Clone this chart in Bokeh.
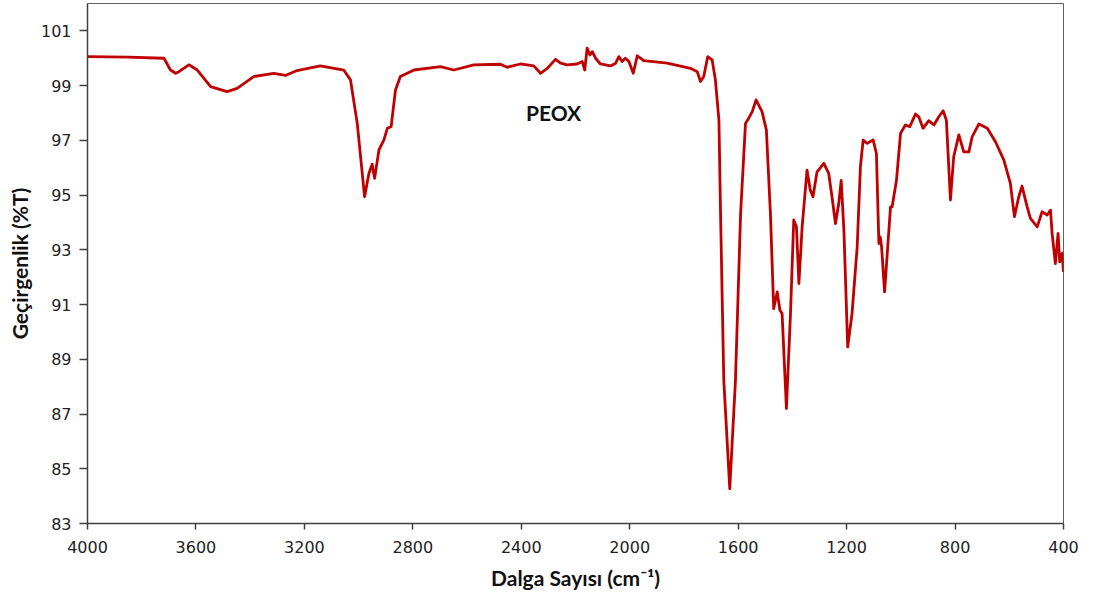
from bokeh.plotting import figure
from bokeh.models import Range1d, FixedTicker, Label
from bokeh.embed import file_html
from bokeh.resources import INLINE

wavenumber = [4000, 3850, 3718, 3694, 3675, 3663, 3626, 3595, 3546, 3485, 3448, 3387, 3313, 3270,
              3227, 3141, 3055, 3030, 3005, 2978, 2962, 2950, 2941, 2925, 2907, 2894, 2880, 2864,
              2846, 2809, 2796, 2698, 2649, 2575, 2477, 2452, 2403, 2354, 2329, 2304, 2274, 2255,
              2231, 2194, 2175, 2166, 2157, 2147, 2138, 2126, 2108, 2071, 2052, 2040, 2028, 2016,
              2003, 1987, 1972, 1948, 1862, 1776, 1751, 1739, 1727, 1712, 1696, 1684, 1671, 1665,
              1653, 1631, 1610, 1591, 1573, 1561, 1548, 1534, 1512, 1496, 1481, 1469, 1456, 1446,
              1438, 1422, 1407, 1395, 1385, 1376, 1364, 1346, 1334, 1324, 1309, 1284, 1266, 1254,
              1241, 1229, 1220, 1210, 1196, 1180, 1161, 1149, 1139, 1124, 1102, 1090, 1081, 1076,
              1071, 1060, 1038, 1032, 1016, 1001, 983, 967, 946, 934, 918, 897, 878, 860, 844, 832,
              817, 805, 786, 768, 749, 737, 712, 681, 651, 620, 596, 581, 565, 553, 534, 522, 497,
              479, 460, 448, 442, 430, 420, 414, 405, 400]
transmittance = [100.06, 100.04, 100.0, 99.57, 99.45, 99.51, 99.76, 99.57, 98.96, 98.78, 98.90, 99.33,
                 99.45, 99.37, 99.55, 99.72, 99.57, 99.21, 97.62, 94.94, 95.79, 96.13, 95.61, 96.65,
                 97.01, 97.44, 97.50, 98.84, 99.33, 99.51, 99.57, 99.69, 99.57, 99.76, 99.78, 99.67,
                 99.79, 99.72, 99.45, 99.63, 99.96, 99.82, 99.76, 99.79, 99.88, 99.57, 100.37, 100.12,
                 100.24, 100.0, 99.79, 99.72, 99.82, 100.06, 99.88, 100.0, 99.88, 99.45, 100.09, 99.91,
                 99.82, 99.63, 99.51, 99.15, 99.33, 100.06, 99.94, 99.21, 97.74, 94.33, 88.23, 84.27,
                 88.23, 94.33, 97.62, 97.81, 98.05, 98.48, 98.05, 97.38, 94.33, 90.85, 91.46, 90.79,
                 90.67, 87.20, 90.67, 94.09, 93.84, 91.77, 93.84, 95.91, 95.18, 94.94, 95.85, 96.16,
                 95.79, 94.94, 93.96, 94.69, 95.54, 93.72, 89.45, 90.67, 93.11, 96.04, 97.01, 96.89,
                 97.01, 96.52, 93.23, 93.47, 93.11, 91.46, 94.57, 94.57, 95.55, 97.26, 97.56, 97.50,
                 97.96, 97.86, 97.44, 97.72, 97.56, 97.86, 98.08, 97.74, 94.82, 96.40, 97.20, 96.58,
                 96.58, 97.13, 97.60, 97.44, 96.95, 96.28, 95.43, 94.21, 94.94, 95.33, 94.57, 94.15,
                 93.84, 94.39, 94.27, 94.45, 93.60, 92.50, 93.60, 92.56, 92.87, 92.19]

x_ticks = [4000, 3600, 3200, 2800, 2400, 2000, 1600, 1200, 800, 400]
y_ticks = [83, 85, 87, 89, 91, 93, 95, 97, 99, 101]
sample_label = "PEOX"
x_title = "Dalga Sayısı (cm⁻¹)"
y_title = "Geçirgenlik (%T)"

p = figure(width=1093, height=601, output_backend="svg", toolbar_location=None,
           x_range=Range1d(4000, 400), y_range=Range1d(83, 102))
p.min_border_left = 87
p.min_border_right = 30
p.min_border_top = 3
p.min_border_bottom = 78
p.background_fill_color = "white"
p.border_fill_color = "white"
p.outline_line_color = "#606060"
p.outline_line_width = 1
p.xgrid.visible = False
p.ygrid.visible = False

p.line(wavenumber, transmittance, line_color="#C00000", line_width=2.8, line_join="round")

p.add_layout(Label(x=2281, y=98.0, text=sample_label, text_font="Lato", text_font_style="bold",
                   text_font_size="21px", text_color="#111111", text_align="center",
                   text_baseline="middle"))

for ax in (p.xaxis[0], p.yaxis[0]):
    ax.axis_line_color = "#404040"
    ax.axis_line_width = 1.5
    ax.major_tick_line_color = "#404040"
    ax.major_tick_line_width = 1.5
    ax.major_tick_in = 0
    ax.minor_tick_line_color = None
    ax.major_label_text_font = "DejaVu Sans"
    ax.major_label_text_font_size = "16px"
    ax.major_label_text_color = "#222222"
    ax.axis_label_text_font = "Lato"
    ax.axis_label_text_font_style = "bold"
    ax.axis_label_text_font_size = "21px"
    ax.axis_label_text_color = "#111111"

p.xaxis[0].major_tick_out = 6
p.yaxis[0].major_tick_out = 8
p.xaxis[0].ticker = FixedTicker(ticks=x_ticks)
p.yaxis[0].ticker = FixedTicker(ticks=y_ticks)
p.xaxis[0].axis_label = x_title
p.yaxis[0].axis_label = y_title
p.xaxis[0].major_label_standoff = 11
p.xaxis[0].axis_label_standoff = 9
p.yaxis[0].major_label_standoff = 8
p.yaxis[0].axis_label_standoff = 6

open("out.html", "w").write(file_html(p, INLINE))
